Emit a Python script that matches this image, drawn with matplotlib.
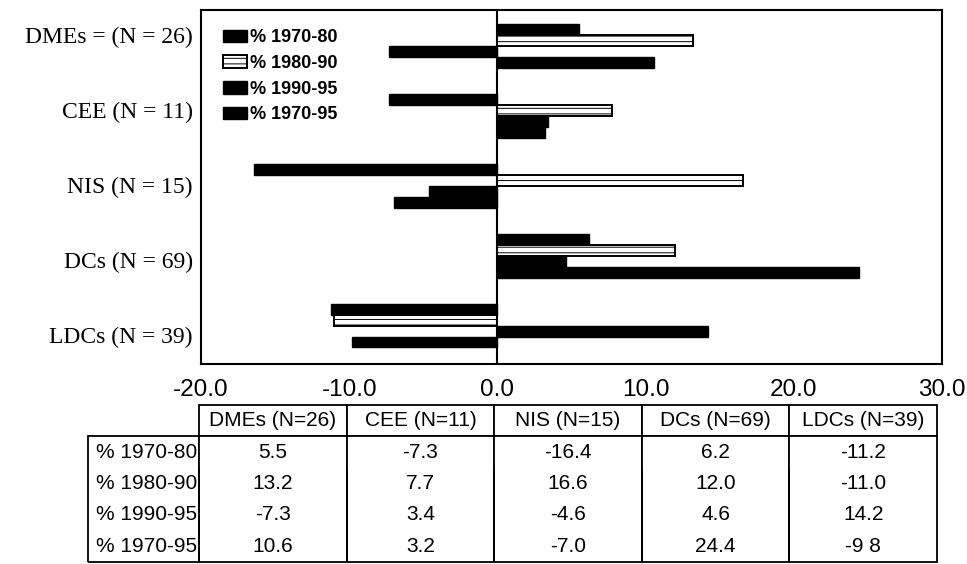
import numpy as np
import matplotlib
matplotlib.use("Agg")
import matplotlib.pyplot as plt
from matplotlib.patches import Patch

groups = ["DMEs = (N = 26)", "CEE (N = 11)", "NIS (N = 15)", "DCs (N = 69)", "LDCs (N = 39)"]
col_labels = ["DMEs (N=26)", "CEE (N=11)", "NIS (N=15)", "DCs (N=69)", "LDCs (N=39)"]
series = ["% 1970-80", "% 1980-90", "% 1990-95", "% 1970-95"]

p1970_80 = [5.5, -7.3, -16.4, 6.2, -11.2]
p1980_90 = [13.2, 7.7, 16.6, 12.0, -11.0]
p1990_95 = [-7.3, 3.4, -4.6, 4.6, 14.2]
p1970_95 = [10.6, 3.2, -7.0, 24.4, -9.8]
cell_text = [["5.5", "-7.3", "-16.4", "6.2", "-11.2"],
             ["13.2", "7.7", "16.6", "12.0", "-11.0"],
             ["-7.3", "3.4", "-4.6", "4.6", "14.2"],
             ["10.6", "3.2", "-7.0", "24.4", "-9 8"]]

plt.rcParams['hatch.linewidth'] = 0.7

fig = plt.figure(figsize=(9.67, 5.64), dpi=100)
ax = fig.add_axes([201 / 967, 1 - 364 / 564, 741 / 967, 354 / 564])

y = np.arange(len(groups))
h = 0.157
styles = [dict(facecolor='black', edgecolor='black'),
          dict(facecolor='white', edgecolor='black', hatch='---', linewidth=1.4),
          dict(facecolor='black', edgecolor='black'),
          dict(facecolor='black', edgecolor='black')]
values = [p1970_80, p1980_90, p1990_95, p1970_95]
for k, (vals, st) in enumerate(zip(values, styles)):
    ax.barh(y + (k - 1.5) * h, vals, height=h, **st)

ax.axvline(0, color='black', linewidth=1.5)
ax.set_xlim(-20, 30)
ax.set_ylim(4.55, -0.51)
ax.set_xticks([-20, -10, 0, 10, 20, 30])
ax.set_xticklabels(["%.1f" % v for v in [-20, -10, 0, 10, 20, 30]],
                   fontsize=17.5, family='Liberation Sans')
# the scanned labels sit a little off the group centres
ax.set_yticks(y * 1.07 - 0.15)
ax.set_yticklabels(groups, fontsize=17, family='Liberation Serif')
ax.tick_params(axis='x', length=0, pad=11)
ax.tick_params(axis='y', length=0, pad=6)
for s in ax.spines.values():
    s.set_linewidth(1.5)

handles = [Patch(**st) for st in styles]
ax.legend(handles, series, loc='upper left', bbox_to_anchor=(0.03, 0.945),
          frameon=False, borderpad=0, borderaxespad=0, handlelength=1.3,
          handleheight=0.7, handletextpad=0.2, labelspacing=0.48,
          prop=dict(family='Liberation Sans', weight='bold', size=13))

# table under the chart, first column holds the row labels
rows = [[lab] + r for lab, r in zip(series, cell_text)]
tab = ax.table(cellText=rows, colLabels=[""] + col_labels,
               colWidths=[111] + [147.6] * 5, cellLoc='center',
               bbox=[(88 - 201) / 741, -(562 - 364) / 354, (937 - 88) / 741, (562 - 405) / 354])
tab.auto_set_font_size(False)
nrow = len(rows)
for (r, c), cell in tab.get_celld().items():
    cell.set_linewidth(1.3)
    cell.get_text().set_fontsize(15)
    cell.get_text().set_family('Liberation Sans')
    if r == 0:
        cell.visible_edges = 'open' if c == 0 else 'closed'
    else:
        e = 'LR'
        if r == 1:
            e += 'T'
        if r == nrow:
            e += 'B'
        cell.visible_edges = e
    if c == 0 and r > 0:
        cell.get_text().set_ha('right')
        cell.PAD = 0.02

fig.savefig('out.png', dpi=100)
